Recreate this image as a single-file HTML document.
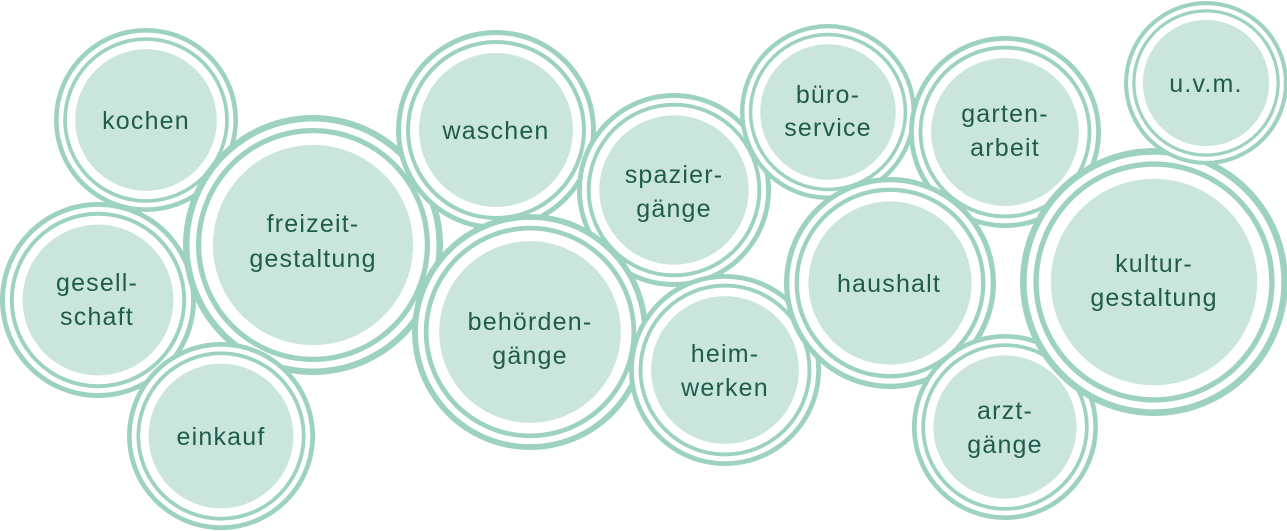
<!DOCTYPE html>
<html><head><meta charset="utf-8"><style>
html,body{margin:0;padding:0;background:#fff;}
svg{display:block}
text{font-family:"Liberation Sans",sans-serif;font-size:25px;fill:#1f5c4c;letter-spacing:1.2px;text-anchor:middle;}
</style></head><body>
<svg width="1287" height="531" viewBox="0 0 1287 531" xmlns="http://www.w3.org/2000/svg">
<defs>
<symbol id="c" viewBox="-100 -100 200 200" overflow="visible">
<circle r="100" fill="#9dd2c0"/>
<circle r="95" fill="#fff"/>
<circle r="90" fill="#9dd2c0"/>
<circle r="86" fill="#fff"/>
<circle r="77" fill="#c9e5dc"/>
</symbol>
</defs>
<g>
<use href="#c" x="54" y="28" width="184" height="184"/>
<use href="#c" x="0" y="202" width="196" height="196"/>
<use href="#c" x="183" y="115" width="260" height="260"/>
<use href="#c" x="127" y="342" width="188" height="188"/>
<use href="#c" x="396" y="30" width="200" height="200"/>
<use href="#c" x="577" y="93" width="194" height="194"/>
<use href="#c" x="412" y="214" width="236" height="236"/>
<use href="#c" x="629" y="274" width="192" height="192"/>
<use href="#c" x="740" y="24" width="176" height="176"/>
<use href="#c" x="909" y="36" width="192" height="192"/>
<use href="#c" x="784" y="177" width="212" height="212"/>
<use href="#c" x="912" y="334" width="186" height="186"/>
<use href="#c" x="1020" y="148" width="268" height="268"/>
<use href="#c" x="1124" y="1" width="164" height="164"/>
</g>
<text x="146" y="129">kochen</text>
<text x="313" y="232">freizeit-</text>
<text x="313" y="267">gestaltung</text>
<text x="97" y="291">gesell-</text>
<text x="97" y="325">schaft</text>
<text x="221" y="445">einkauf</text>
<text x="496" y="139">waschen</text>
<text x="674" y="183">spazier-</text>
<text x="674" y="217">gänge</text>
<text x="530" y="330">behörden-</text>
<text x="530" y="364">gänge</text>
<text x="725" y="362">heim-</text>
<text x="725" y="396">werken</text>
<text x="828" y="103">büro-</text>
<text x="828" y="136">service</text>
<text x="1005" y="122">garten-</text>
<text x="1005" y="156">arbeit</text>
<text x="889" y="292">haushalt</text>
<text x="1005" y="419">arzt-</text>
<text x="1005" y="453">gänge</text>
<text x="1154" y="272">kultur-</text>
<text x="1154" y="306">gestaltung</text>
<text x="1206" y="92">u.v.m.</text>
</svg>
</body></html>
